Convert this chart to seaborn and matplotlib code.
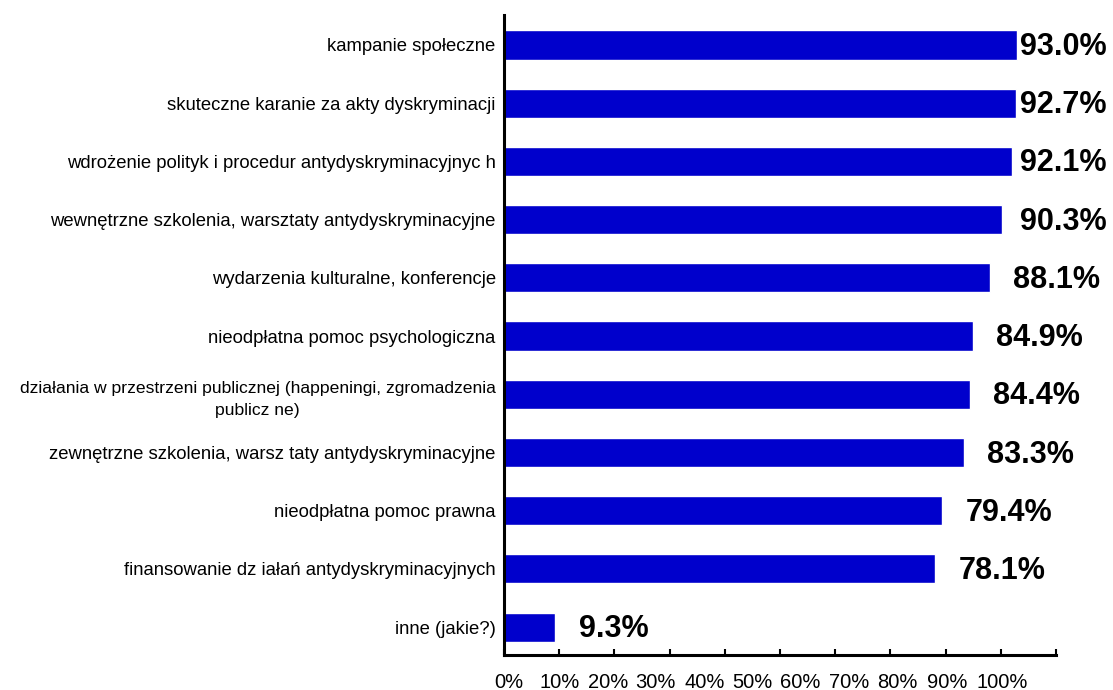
import matplotlib
matplotlib.use("Agg")
import matplotlib.pyplot as plt
import seaborn as sns
import pandas as pd

categories = [
    "kampanie społeczne",
    "skuteczne karanie za akty dyskryminacji",
    "wdrożenie polityk i procedur antydyskryminacyjnyc h",
    "wewnętrzne szkolenia, warsztaty antydyskryminacyjne",
    "wydarzenia kulturalne, konferencje",
    "nieodpłatna pomoc psychologiczna",
    "działania w przestrzeni publicznej (happeningi, zgromadzenia\npublicz ne)",
    "zewnętrzne szkolenia, warsz taty antydyskryminacyjne",
    "nieodpłatna pomoc prawna",
    "finansowanie dz iałań antydyskryminacyjnych",
    "inne (jakie?)",
]
values = [93.0, 92.7, 92.1, 90.3, 88.1, 84.9, 84.4, 83.3, 79.4, 78.1, 9.3]
value_labels = ["93.0%", "92.7%", "92.1%", "90.3%", "88.1%", "84.9%",
                "84.4%", "83.3%", "79.4%", "78.1%", "9.3%"]
tick_values = [0, 10, 20, 30, 40, 50, 60, 70, 80, 90, 100]
tick_labels = ["0%", "10%", "20%", "30%", "40%", "50%", "60%", "70%", "80%", "90%", "100%"]

# layout: where the (offset) tick label texts sit, as in the reference
tick_label_pos = [0.9, 10.0, 18.8, 27.5, 36.3, 45.0, 53.7, 62.5, 71.3, 80.3, 90.2]

sns.set_theme(style="white")
plt.rcParams["font.family"] = ["Liberation Sans", "DejaVu Sans"]

fig = plt.figure(figsize=(11.13, 6.9), dpi=100)
ax = fig.add_axes([504 / 1113, 35 / 690, 552 / 1113, 640 / 690])

df = pd.DataFrame({"cat": categories, "val": values})
sns.barplot(data=df, x="val", y="cat", orient="h", color="#0000CC",
            saturation=1, width=0.5, ax=ax)

for i, (v, lab) in enumerate(zip(values, value_labels)):
    ax.annotate(lab, (min(v + 4.2, 93.5), i), xytext=(0, -1.5),
                textcoords="offset points", ha="left", va="center",
                fontsize=22, fontweight="bold", color="black")

ax.set_xlim(0, 100)
ax.set_ylim(10.48, -0.515)
ax.set_xlabel("")
ax.set_ylabel("")

ax.xaxis.remove_overlapping_locs = False
ax.set_xticks(tick_values)
ax.set_xticklabels([""] * len(tick_values))
ax.set_xticks(tick_label_pos, tick_labels, minor=True)
ax.tick_params(axis="x", which="major", direction="in", length=4, width=1.5,
               color="black", bottom=True)
ax.tick_params(axis="x", which="minor", length=0, labelsize=14.5, pad=13,
               labelcolor="black", bottom=True)

ax.set_yticks(range(len(categories)))
ax.set_yticklabels(categories)
ax.tick_params(axis="y", length=0, labelsize=13.3, pad=6, labelcolor="black")
for t in ax.get_yticklabels():
    t.set_multialignment("center")
    if "\n" in t.get_text():
        t.set_fontsize(12.6)
        t.set_linespacing(1.6)

sns.despine(ax=ax, top=True, right=True)
for s in ["left", "bottom"]:
    ax.spines[s].set_color("black")
    ax.spines[s].set_linewidth(2.2)

fig.savefig("out.png", dpi=100, facecolor="white")
